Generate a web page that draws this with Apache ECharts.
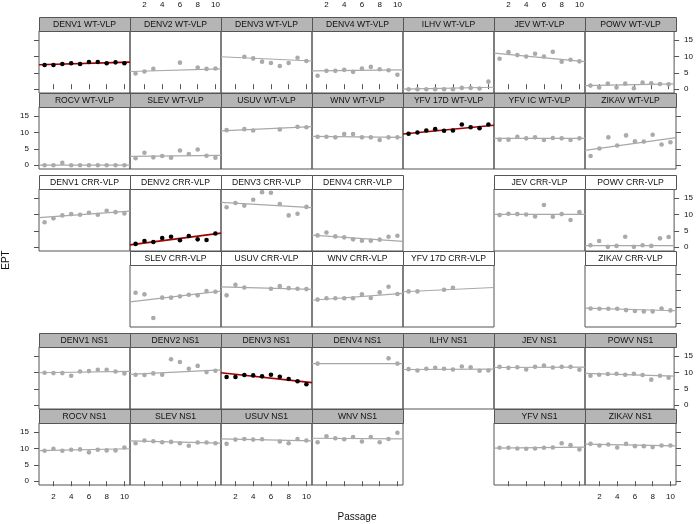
<!DOCTYPE html>
<html>
<head>
<meta charset="utf-8">
<script src="https://cdn.jsdelivr.net/npm/echarts@6/dist/echarts.min.js"></script>
<style>
  html, body { margin: 0; padding: 0; background: #fff; }
  #chart { width: 696px; height: 524px; }
</style>
</head>
<body>
<div id="chart"></div>
<script>
// passage numbers (x)
const passage = [1, 2, 3, 4, 5, 6, 7, 8, 9, 10];
const xTicks = [2, 4, 6, 8, 10];
const yTicks = [0, 5, 10, 15];

// WT-VLP block, 2 rows x 7 columns
const wtNames = ['DENV1', 'DENV2', 'DENV3', 'DENV4', 'ILHV', 'JEV', 'POWV',
                 'ROCV', 'SLEV', 'USUV', 'WNV', 'YFV 17D', 'YFV IC', 'ZIKAV'];
const wtEPT = [
  [7.4, 7.4, 7.7, 7.9, 7.7, 8.3, 8.3, 7.9, 8.2, 7.9],
  [4.8, 5.4, 6.2, null, null, 8.1, null, 6.6, 6.2, 6.3],
  [null, null, 9.9, 9.4, 8.4, 8.0, 7.1, 8.0, 9.6, 8.6],
  [4.1, 5.6, 5.6, 5.9, 5.3, 6.3, 6.8, 6.1, 5.8, 4.4],
  [0, 0, 0, 0, 0, 0, 0.4, 0.4, 0.2, 2.3],
  [9.3, 11.3, 10.4, 10.0, 10.8, 10.0, 11.4, 8.4, 9.0, 8.5],
  [1.1, 0.5, 1.7, 0.5, 1.7, 0.3, 2.0, 1.8, 1.6, 1.5],
  [0, 0, 0.7, 0, 0, 0, 0, 0, 0, 0],
  [2.1, 3.8, 2.4, 2.8, 2.3, 4.5, 3.4, 4.8, 2.9, 2.3],
  [10.7, null, 11.0, 10.6, null, null, 10.9, null, 11.7, 11.6],
  [8.7, 8.7, 8.5, 9.5, 9.5, 8.5, 8.5, 7.7, 8.5, 8.5],
  [9.6, 10.0, 10.6, 11.0, 10.5, 10.6, 12.4, 11.6, 11.3, 12.4],
  [7.8, 7.8, 8.7, 8.2, 8.5, 7.7, 8.3, 8.2, 7.7, 8.2],
  [2.8, 5.1, 8.5, 6.0, 9.1, 7.3, 7.2, 9.3, 6.3, 7.0]
];
// fitted line, value at left and right edge of the panel
const wtFit = [
  [7.45, 8.25], [5.4, 6.2], [9.9, 8.6], [5.6, 5.9], [0.0, 0.6], [11.0, 8.4], [1.1, 1.6],
  [0.05, 0.0], [2.7, 3.0], [10.5, 11.8], [8.8, 8.5], [9.5, 12.2], [8.2, 8.2], [4.5, 8.4]
];

// CRR-VLP block
const crrNames = ['DENV1', 'DENV2', 'DENV3', 'DENV4', null, 'JEV', 'POWV',
                  null, 'SLEV', 'USUV', 'WNV', 'YFV 17D', null, 'ZIKAV'];
const crrEPT = [
  [7.6, 8.8, 9.7, 10.1, 9.9, 10.5, 9.9, 11.1, 10.7, 10.3],
  [1.0, 1.9, 1.6, 2.8, 3.2, 2.1, 3.4, 2.4, 2.2, 4.2],
  [12.2, 13.5, 12.7, 14.5, 16.8, 16.6, 13.2, 9.7, 10.2, 12.3],
  [3.6, 4.5, 3.3, 3.0, 2.4, 2.0, 2.0, 2.3, 3.2, 3.5],
  null,
  [9.8, 10.2, 10.1, 10.0, 9.4, 12.9, 9.3, 10.1, 8.3, 10.7],
  [0.6, 1.9, 0.1, 0.4, 3.2, 0.1, 0.6, 0.4, 2.7, 3.1],
  null,
  [9.3, 8.8, 1.6, 7.8, 7.8, 8.2, 8.7, 8.5, 9.8, 9.6],
  [8.5, 11.7, 10.9, null, null, 10.5, 11.3, 10.7, 10.5, 10.4],
  [7.2, 7.6, 7.6, 7.6, 7.6, 8.8, 7.7, 9.4, 11.1, 8.9],
  [9.7, 9.7, null, null, 10.2, 10.8, null, null, null, null],
  null,
  [4.5, 4.4, 4.4, 4.4, 4.0, 3.7, 3.6, 3.6, 4.5, 3.9]
];
const crrFit = [
  [9.0, 11.0], [0.7, 4.3], [13.7, 12.1], [3.7, 1.8], null, [10.0, 10.0], [0.5, 0.5],
  null, [6.5, 9.8], [11.1, 10.3], [7.0, 9.1], [9.6, 10.9], null, [4.6, 3.8]
];

// NS1 block
const ns1Names = ['DENV1', 'DENV2', 'DENV3', 'DENV4', 'ILHV', 'JEV', 'POWV',
                  'ROCV', 'SLEV', 'USUV', 'WNV', null, 'YFV', 'ZIKAV'];
const ns1EPT = [
  [9.9, 9.8, 9.8, 9.0, 10.3, 10.4, 10.8, 10.8, 10.3, 9.7],
  [9.3, 9.2, 9.7, 9.3, 14.0, 13.2, 11.1, 12.0, 10.1, 10.5],
  [8.6, 8.6, 9.2, 9.1, 8.8, 9.3, 8.7, 8.0, 7.3, 6.4],
  [12.7, null, null, null, null, null, null, null, 14.3, 12.7],
  [11.0, 10.6, 11.1, 11.4, 11.1, 10.9, 11.8, 11.6, 10.5, 10.6],
  [11.7, 11.4, 11.6, 10.9, 11.7, 12.1, 11.5, 11.7, 11.7, 10.8],
  [9.0, 9.3, 9.5, 9.6, 9.3, 9.6, 9.2, 7.8, 9.0, 8.4],
  [9.3, 9.9, 9.3, 9.6, 9.7, 8.8, 9.6, 9.4, 9.4, 10.3],
  [11.6, 12.4, 12.2, 11.9, 12.0, 11.6, 10.8, 11.8, 11.8, 11.6],
  [11.4, 12.7, 12.9, 12.7, 12.8, null, 12.1, 11.6, 12.9, 12.4],
  [11.9, 13.7, 13.1, 12.8, 13.5, 12.1, 13.5, 11.9, 12.9, 14.8],
  null,
  [10.2, 10.2, 10.0, 9.9, 10.0, 10.2, 10.3, 11.6, 11.0, 9.7],
  [11.4, 10.9, 11.2, 10.3, 11.4, 10.7, 10.7, 10.4, 10.9, 10.9]
];
const ns1Fit = [
  [9.9, 10.3], [9.4, 10.8], [9.9, 6.9], [12.7, 12.7], [10.9, 11.0], [11.5, 11.6], [9.7, 8.9],
  [9.3, 9.9], [12.3, 11.6], [12.9, 12.3], [13.1, 12.9], null, [10.1, 10.4], [11.3, 10.8]
];

// panels with a significant trend (black points, red line)
const highlighted = ['DENV1 WT-VLP', 'YFV 17D WT-VLP', 'DENV2 CRR-VLP', 'DENV3 NS1'];

// layout
const X_MIN = 0.37, X_MAX = 10.63, Y_MIN = -1.16, Y_MAX = 17.76;
const LEFT = 39, COL_W = 91, STRIP_H = 14, PLOT_H = 62;
const BLOCK_TOPS = [17, 175, 333];
const FONT = '"Liberation Sans", Arial, sans-serif';
const AXIS_COL = '#555';

const blocks = [
  { names: wtNames, ept: wtEPT, fit: wtFit, suffix: 'WT-VLP', strip: '#b5b5b5' },
  { names: crrNames, ept: crrEPT, fit: crrFit, suffix: 'CRR-VLP', strip: '#ffffff' },
  { names: ns1Names, ept: ns1EPT, fit: ns1Fit, suffix: 'NS1', strip: '#b5b5b5' }
];

const grid = [], xAxis = [], yAxis = [], series = [], graphic = [];

blocks.forEach(function (blk, b) {
  blk.names.forEach(function (name, k) {
    if (!name) return;
    const rr = Math.floor(k / 7), c = k % 7;
    const g = b * 2 + rr; // global row 0..5
    const x = LEFT + c * COL_W;
    const y = BLOCK_TOPS[b] + rr * (STRIP_H + PLOT_H);
    const title = name + ' ' + blk.suffix;
    const hi = highlighted.indexOf(title) >= 0;
    const idx = grid.length;

    grid.push({ left: x, top: y + STRIP_H, width: COL_W, height: PLOT_H,
      show: true, borderColor: AXIS_COL, borderWidth: 1 });

    const xTickOn = g === 0 || g === 5;
    const xLabOn = (g === 0 && c % 2 === 1) || (g === 5 && c % 2 === 0);
    xAxis.push({
      type: 'value', gridIndex: idx, min: X_MIN, max: X_MAX,
      position: g === 0 ? 'top' : 'bottom', offset: g === 0 ? STRIP_H : 0,
      axisLine: { show: false },
      splitLine: { show: false },
      axisTick: { show: xTickOn, customValues: xTicks, length: 5,
        lineStyle: { color: AXIS_COL } },
      axisLabel: { show: xLabOn, customValues: xTicks, margin: g === 0 ? 8 : 8,
        fontSize: 8, fontFamily: FONT, color: '#111' }
    });

    const yTickOn = c === 0 || c === 6;
    const yLabOn = (c === 0 && g % 2 === 1) || (c === 6 && g % 2 === 0);
    yAxis.push({
      type: 'value', gridIndex: idx, min: Y_MIN, max: Y_MAX,
      position: c === 0 ? 'left' : 'right',
      axisLine: { show: false },
      splitLine: { show: false },
      axisTick: { show: yTickOn, customValues: yTicks, length: 5,
        lineStyle: { color: AXIS_COL } },
      axisLabel: { show: yLabOn, customValues: yTicks, margin: 10,
        fontSize: 8, fontFamily: FONT, color: '#111' }
    });

    const fit = blk.fit[k];
    series.push({
      type: 'line', xAxisIndex: idx, yAxisIndex: idx, symbol: 'none', silent: true,
      data: [[X_MIN, fit[0]], [X_MAX, fit[1]]],
      lineStyle: { color: hi ? '#a30000' : '#a8a8a8', width: hi ? 1.6 : 1.2 },
      z: 2
    });

    const pts = [];
    blk.ept[k].forEach(function (v, i) {
      if (v !== null) pts.push([passage[i], v]);
    });
    series.push({
      type: 'scatter', xAxisIndex: idx, yAxisIndex: idx, symbolSize: 4.6,
      data: pts,
      itemStyle: { color: hi ? '#000' : '#aaaaaa', opacity: 1 },
      z: 3
    });

    // strip on top of panel
    graphic.push({
      type: 'rect', silent: true, z: 10,
      shape: { x: x + 0.5, y: y + 0.5, width: COL_W, height: STRIP_H },
      style: { fill: blk.strip, stroke: AXIS_COL, lineWidth: 1 }
    });
    graphic.push({
      type: 'text', silent: true, z: 11,
      x: x + COL_W / 2, y: y + STRIP_H / 2 + 1,
      style: { text: title, align: 'center', verticalAlign: 'middle',
        fill: '#111', font: '8.6px ' + FONT }
    });
  });
});

graphic.push({
  type: 'text', silent: true, x: 6, y: 260, rotation: Math.PI / 2,
  style: { text: 'EPT', align: 'center', verticalAlign: 'middle',
    fill: '#111', font: '10px ' + FONT }
});
graphic.push({
  type: 'text', silent: true, x: 357, y: 517,
  style: { text: 'Passage', align: 'center', verticalAlign: 'middle',
    fill: '#111', font: '10px ' + FONT }
});

const myChart = echarts.init(document.getElementById('chart'), null, { renderer: 'canvas' });
myChart.setOption({
  animation: false,
  backgroundColor: '#fff',
  grid: grid,
  xAxis: xAxis,
  yAxis: yAxis,
  series: series,
  graphic: graphic
});
</script>
</body>
</html>
